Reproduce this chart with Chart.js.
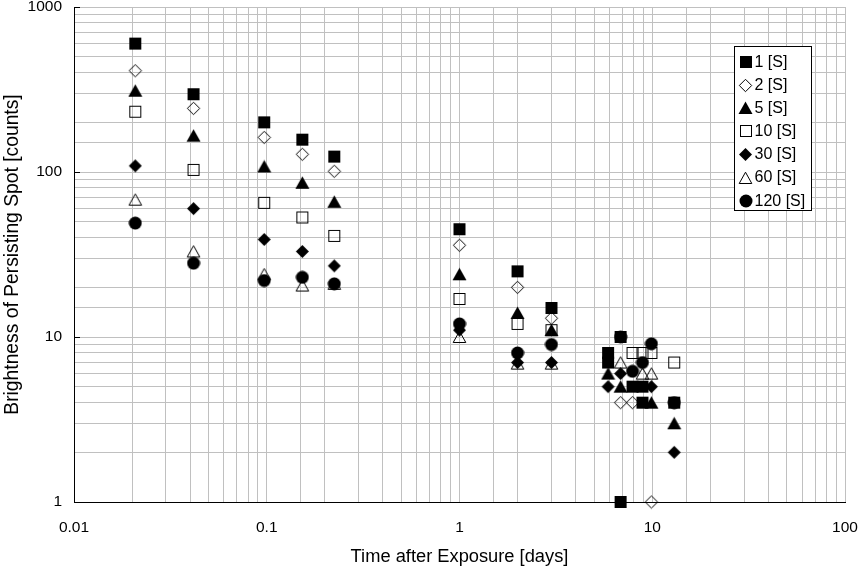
<!DOCTYPE html>
<html>
<head>
<meta charset="utf-8">
<script src="https://cdn.jsdelivr.net/npm/chart.js@4/dist/chart.umd.min.js"></script>
<style>
  html, body { margin: 0; padding: 0; background: #ffffff; }
  #c { display: block; }
</style>
</head>
<body>
<canvas id="c" width="858" height="569"></canvas>
<script>
// ---- data ----
const seriesNames = ['1 [S]', '2 [S]', '5 [S]', '10 [S]', '30 [S]', '60 [S]', '120 [S]'];

const s1Days   = [0.0208, 0.0417, 0.097, 0.153, 0.224, 1, 2, 3, 5.9, 5.9, 6.85, 6.85, 7.9, 8.9, 8.9, 13];
const s1Counts = [600, 296, 200, 157, 124, 45, 25, 15, 8, 7, 10, 1, 5, 5, 4, 4];

const s2Days   = [0.0208, 0.0417, 0.097, 0.153, 0.224, 1, 2, 3, 6.85, 7.9, 9.9];
const s2Counts = [411, 243, 162, 128, 101, 36, 20, 13, 4, 4, 1];

const s5Days   = [0.0208, 0.0417, 0.097, 0.153, 0.224, 1, 2, 3, 5.9, 6.85, 9.9, 13];
const s5Counts = [311, 166, 108, 86, 66, 24, 14, 11, 6, 5, 4, 3];

const s10Days   = [0.0208, 0.0417, 0.097, 0.153, 0.224, 1, 2, 3, 7.9, 8.9, 9.9, 13];
const s10Counts = [232, 103, 65, 53, 41, 17, 12, 11, 8, 8, 8, 7];

const s30Days   = [0.0208, 0.0417, 0.097, 0.153, 0.224, 1, 2, 3, 5.9, 6.85, 9.9, 13];
const s30Counts = [109, 60, 39, 33, 27, 11, 7, 7, 5, 6, 5, 2];

const s60Days   = [0.0208, 0.0417, 0.097, 0.153, 0.224, 1, 2, 3, 6.85, 8.9, 9.9];
const s60Counts = [68, 33, 24, 20.5, 21, 10, 6.9, 6.9, 7, 6, 6];

const s120Days   = [0.0208, 0.0417, 0.097, 0.153, 0.224, 1, 2, 3, 6.85, 7.9, 8.9, 9.9, 13];
const s120Counts = [49, 28, 22, 23, 21, 12, 8, 9, 10, 6.2, 7, 9.1, 4];

const xTickValues = [0.01, 0.1, 1, 10, 100];
const xTickLabels = ['0.01', '0.1', '1', '10', '100'];
const yTickValues = [1, 10, 100, 1000];
const yTickLabels = ['1', '10', '100', '1000'];

const xTitle = 'Time after Exposure [days]';
const yTitle = 'Brightness of Persisting Spot [counts]';

// ---- marker images ----
function makeMarker(shape, filled) {
  const c = document.createElement('canvas');
  const ctx = c.getContext('2d');
  ctx.fillStyle = '#000';
  ctx.strokeStyle = '#000';
  ctx.lineWidth = 1.1;
  if (shape === 'square') {
    c.width = 14; c.height = 14;
    if (filled) { ctx.fillRect(1, 1, 12, 12); }
    else { ctx.strokeRect(1.5, 1.5, 11, 11); }
  } else if (shape === 'diamond') {
    c.width = 15; c.height = 15;
    ctx.beginPath();
    if (filled) {
      ctx.moveTo(7.5, 1); ctx.lineTo(14, 7.5); ctx.lineTo(7.5, 14); ctx.lineTo(1, 7.5);
      ctx.closePath(); ctx.fill();
    } else {
      ctx.moveTo(7.5, 1.3); ctx.lineTo(13.7, 7.5); ctx.lineTo(7.5, 13.7); ctx.lineTo(1.3, 7.5);
      ctx.closePath(); ctx.stroke();
    }
  } else if (shape === 'triangle') {
    c.width = 15; c.height = 14;
    ctx.beginPath();
    if (filled) {
      ctx.moveTo(7.5, 0.5); ctx.lineTo(14.5, 13); ctx.lineTo(0.5, 13);
      ctx.closePath(); ctx.fill();
    } else {
      ctx.moveTo(7.5, 1.2); ctx.lineTo(13.8, 12.5); ctx.lineTo(1.2, 12.5);
      ctx.closePath(); ctx.stroke();
    }
  } else if (shape === 'circle') {
    c.width = 14; c.height = 14;
    ctx.beginPath();
    ctx.arc(7, 7, 6.5, 0, Math.PI * 2);
    ctx.fill();
  }
  return c;
}

const markers = [
  makeMarker('square', true),
  makeMarker('diamond', false),
  makeMarker('triangle', true),
  makeMarker('square', false),
  makeMarker('diamond', true),
  makeMarker('triangle', false),
  makeMarker('circle', true)
];

const allDays = [s1Days, s2Days, s5Days, s10Days, s30Days, s60Days, s120Days];
const allCounts = [s1Counts, s2Counts, s5Counts, s10Counts, s30Counts, s60Counts, s120Counts];

const datasets = seriesNames.map((name, i) => ({
  label: name,
  data: allDays[i].map((d, j) => ({ x: d, y: allCounts[i][j] })),
  pointStyle: markers[i],
  pointRadius: 6,
  pointHoverRadius: 6,
  showLine: false,
  clip: false,
  order: seriesNames.length - i
}));

function findLabel(v, vals, labels) {
  for (let k = 0; k < vals.length; k++) {
    if (Math.abs(v - vals[k]) / vals[k] < 1e-6) return labels[k];
  }
  return '';
}

const legendPlugin = {
  id: 'boxLegend',
  afterDraw(chart) {
    const ctx = chart.ctx;
    ctx.save();
    // inner major ticks on y axis
    const ys = chart.scales.y;
    const left = chart.chartArea.left;
    ctx.strokeStyle = '#000';
    ctx.lineWidth = 1;
    yTickValues.forEach(v => {
      const p = Math.round(ys.getPixelForValue(v)) + 0.5;
      ctx.beginPath();
      ctx.moveTo(left, p);
      ctx.lineTo(left + 6, p);
      ctx.stroke();
    });
    // legend box
    const bx = 734.5, by = 46.5, bw = 77, bh = 164;
    ctx.fillStyle = '#fff';
    ctx.fillRect(bx, by, bw, bh);
    ctx.strokeStyle = '#000';
    ctx.strokeRect(bx, by, bw, bh);
    ctx.font = '16px "Liberation Sans", Arial, sans-serif';
    ctx.textBaseline = 'middle';
    ctx.textAlign = 'left';
    ctx.fillStyle = '#000';
    seriesNames.forEach((name, i) => {
      const cy = 62 + i * 23.1;
      const m = markers[i];
      ctx.drawImage(m, Math.round(745.5 - m.width / 2), Math.round(cy - m.height / 2));
      ctx.fillText(name, 754.5, cy + 0.5);
    });
    ctx.restore();
  }
};

new Chart(document.getElementById('c'), {
  type: 'scatter',
  data: { datasets },
  plugins: [legendPlugin],
  options: {
    responsive: false,
    animation: false,
    devicePixelRatio: 1,
    layout: { padding: { top: 5, right: 13, left: 0, bottom: 0 } },
    plugins: { legend: { display: false }, tooltip: { enabled: false } },
    scales: {
      x: {
        type: 'logarithmic',
        min: 0.01,
        max: 100,
        grid: { color: '#c0c0c0', lineWidth: 1, drawTicks: false },
        border: { color: '#000', width: 1 },
        ticks: {
          autoSkip: false,
          maxRotation: 0,
          minRotation: 0,
          padding: 16,
          color: '#000',
          font: { family: '"Liberation Sans", Arial, sans-serif', size: 15.5 },
          callback: v => findLabel(v, xTickValues, xTickLabels)
        },
        title: {
          display: true,
          text: xTitle,
          color: '#000',
          font: { family: '"Liberation Sans", Arial, sans-serif', size: 18.3 },
          padding: { top: 0, bottom: 1.5 }
        },
        afterFit(scale) {
          scale.height = 67;
          scale.paddingLeft = 0;
          scale.paddingRight = 0;
        }
      },
      y: {
        type: 'logarithmic',
        min: 1,
        max: 1000,
        grid: { color: '#c0c0c0', lineWidth: 1, drawTicks: false },
        border: { color: '#000', width: 1 },
        ticks: {
          autoSkip: false,
          padding: 12,
          color: '#000',
          font: { family: '"Liberation Sans", Arial, sans-serif', size: 15.5 },
          callback: v => findLabel(v, yTickValues, yTickLabels)
        },
        title: {
          display: true,
          text: yTitle,
          color: '#000',
          font: { family: '"Liberation Sans", Arial, sans-serif', size: 19.3 },
          padding: { top: 1.5, bottom: 0 }
        },
        afterFit(scale) {
          scale.width = 74;
          scale.paddingTop = 0;
          scale.paddingBottom = 0;
        }
      }
    }
  }
});
</script>
</body>
</html>
